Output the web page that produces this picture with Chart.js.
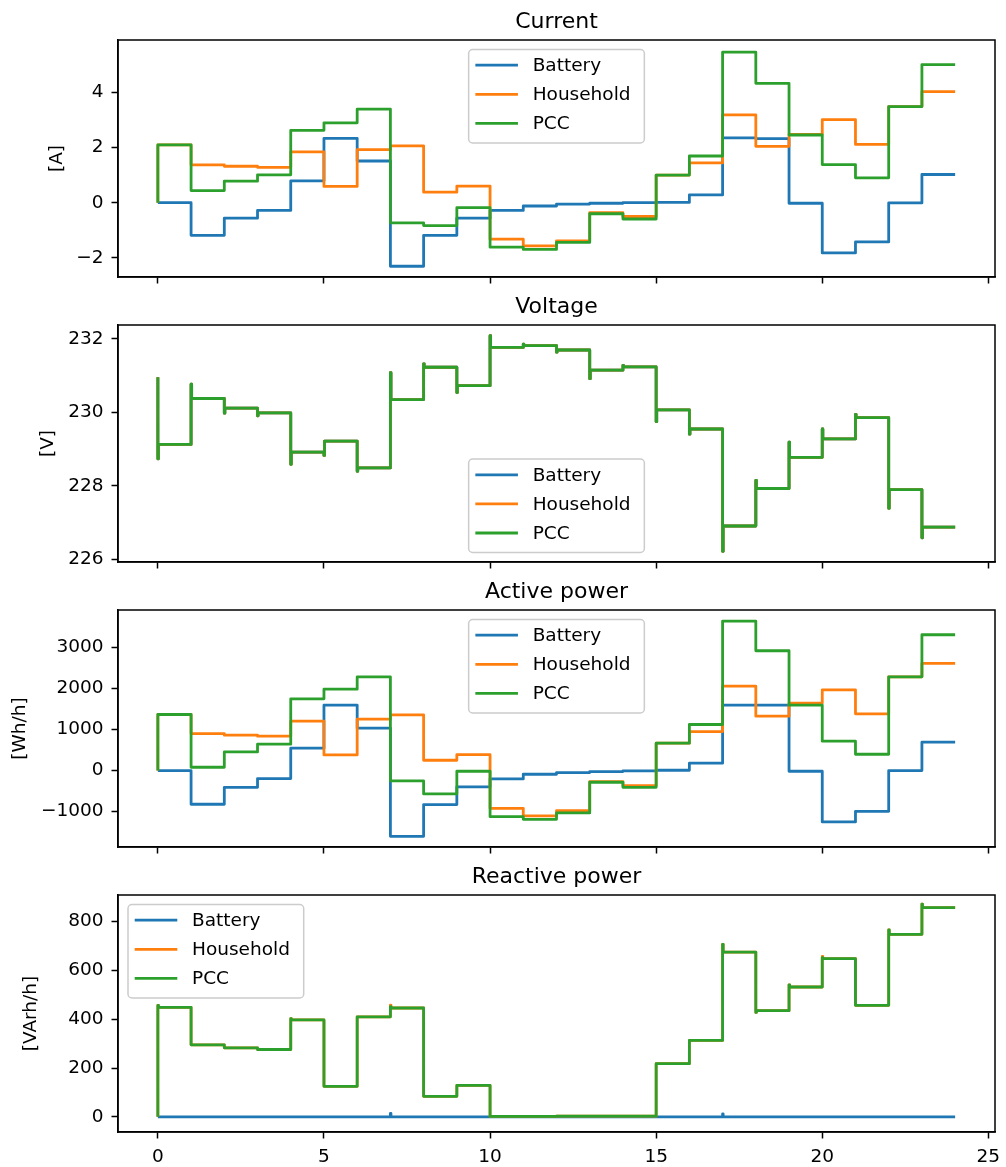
<!DOCTYPE html>
<html><head><meta charset="utf-8">
<script src="https://cdn.jsdelivr.net/npm/chart.js@4.4.0/dist/chart.umd.min.js"></script>
<style>
html,body{margin:0;padding:0;background:#fff;}
#wrap{position:relative;width:1006px;height:1167px;overflow:hidden;}
canvas{position:absolute;left:0;display:block;}
</style></head><body>
<div id="wrap">
<canvas id="c0" width="1006" height="285" style="top:0px"></canvas>
<canvas id="c1" width="1006" height="285" style="top:285px"></canvas>
<canvas id="c2" width="1006" height="285" style="top:570px"></canvas>
<canvas id="c3" width="1006" height="312" style="top:855px"></canvas>
</div>
<script>
// ---------- data (hourly values) ----------
const hours = [0,1,2,3,4,5,6,7,8,9,10,11,12,13,14,15,16,17,18,19,20,21,22,23];
const hourEnd = 24;
const sampleStep = 1/60; // one-minute sampling
const seriesNames = ['Battery', 'Household', 'PCC'];
const xTicks = [0, 5, 10, 15, 20, 25];

// Current [A]
const currentBattery   = [0, -1.18, -0.56, -0.28, 0.79, 2.33, 1.51, -2.30, -1.18, -0.56, -0.28, -0.12, -0.05, -0.02, 0, 0.01, 0.28, 2.35, 2.32, -0.02, -1.82, -1.42, -0.01, 1.02];
const currentHousehold = [2.09, 1.37, 1.32, 1.28, 1.84, 0.59, 1.92, 2.06, 0.38, 0.60, -1.32, -1.56, -1.38, -0.36, -0.50, 1.00, 1.44, 3.18, 2.04, 2.47, 3.01, 2.11, 3.48, 4.02];
const currentPCC       = [2.09, 0.44, 0.78, 1.01, 2.62, 2.89, 3.39, -0.73, -0.83, -0.18, -1.61, -1.69, -1.44, -0.40, -0.59, 1.00, 1.69, 5.45, 4.32, 2.45, 1.38, 0.90, 3.48, 5.00];
const currentStart = [0, 0, 0];
const currentTicks = [-2, 0, 2, 4];

// Voltage [V] (identical at the three measuring points)
const voltage      = [229.13, 230.38, 230.12, 229.99, 228.92, 229.22, 228.49, 230.35, 231.23, 230.73, 231.77, 231.82, 231.70, 231.15, 231.24, 230.07, 229.55, 226.91, 227.93, 228.78, 229.28, 229.86, 227.90, 226.88];
const voltageSpike = [228.74, 230.77, 229.98, 229.91, 228.59, 228.83, 228.40, 231.08, 231.32, 230.54, 232.09, 231.86, 231.64, 230.92, 231.28, 229.75, 229.41, 226.22, 228.15, 229.19, 229.55, 229.95, 227.39, 226.59];
const voltageStart = 230.96;
const voltageTicks = [226, 228, 230, 232];

// Active power [Wh/h]
const activeBattery   = [0, -821, -407, -195, 545, 1593, 1033, -1602, -829, -398, -203, -89, -49, -24, -8, 8, 179, 1593, 1593, -16, -1252, -992, 0, 691];
const activeHousehold = [1366, 902, 862, 837, 1203, 382, 1252, 1358, 252, 390, -919, -1106, -976, -268, -366, 667, 951, 2057, 1325, 1642, 1967, 1382, 2285, 2610];
const activePCC       = [1366, 81, 455, 642, 1748, 1984, 2285, -252, -569, -16, -1122, -1187, -1033, -285, -407, 667, 1122, 3642, 2919, 1593, 715, 398, 2285, 3309];
const activeStart = [0, 0, 0];
const activeTicks = [-1000, 0, 1000, 2000, 3000];

// Reactive power [VArh/h]
const reactiveBattery   = [0, 0, 0, 0, 0, 0, 0, 0, 0, 0, 0, 0, 0, 0, 0, 0, 0, 0, 0, 0, 0, 0, 0, 0];
const reactiveHousehold = [449, 295, 283, 276, 397, 125, 410, 446, 84, 129, 2, 2, 3, 3, 3, 218, 313, 675, 435, 532, 648, 457, 748, 857];
const reactivePCC       = [449, 295, 283, 276, 397, 125, 410, 446, 84, 129, 2, 2, 3, 3, 3, 218, 313, 675, 435, 532, 648, 457, 748, 857];
const reactiveBatterySpike   = [null, null, null, null, null, null, null, 14, null, null, null, null, null, null, null, null, null, 12, null, null, null, null, null, null];
const reactiveHouseholdSpike = [457, null, null, null, 402, null, null, 458, null, null, null, null, null, null, null, null, null, 707, 428, 541, 657, null, 766, 871];
const reactivePCCSpike       = [457, null, null, null, 402, null, null, 452, null, null, null, null, null, null, null, null, null, 707, 428, 541, 652, null, 766, 871];
const reactiveStart = [0, 0, 0];
const reactiveTicks = [0, 200, 400, 600, 800];

// ---------- helpers ----------
const colors = ['#1f77b4', '#ff7f0e', '#2ca02c'];
const FONT = 'DejaVu Sans';
const TICK_FS = 18.5, TITLE_FS = 22;

function buildPoints(start, vals, spikes) {
  const pts = [{x: hours[0], y: start}];
  for (let i = 0; i < vals.length; i++) {
    const h = hours[i];
    const s = spikes ? spikes[i] : null;
    if (s !== null && s !== undefined) {
      pts.push({x: h, y: s});
      pts.push({x: h + sampleStep, y: vals[i]});
    } else {
      pts.push({x: h, y: vals[i]});
    }
  }
  pts.push({x: hourEnd, y: vals[vals.length - 1]});
  return pts;
}

function fmt(v) { return v < 0 ? '\u2212' + Math.abs(v) : String(v); }

const framePlugin = {
  id: 'frame',
  afterDatasetsDraw(chart) {
    const {ctx, chartArea: a} = chart;
    ctx.save();
    ctx.strokeStyle = '#000'; ctx.lineWidth = 1.5;
    ctx.strokeRect(a.left, a.top, a.right - a.left, a.bottom - a.top);
    ctx.restore();
  }
};

const decoPlugin = {
  id: 'deco',
  afterDraw(chart, args, o) {
    const {ctx, chartArea: a} = chart;
    ctx.save();
    // title
    ctx.fillStyle = '#000';
    ctx.font = TITLE_FS + 'px "' + FONT + '"';
    ctx.textAlign = 'center'; ctx.textBaseline = 'alphabetic';
    ctx.fillText(o.title, (a.left + a.right) / 2, a.top - 12);
    // y label
    ctx.font = TICK_FS + 'px "' + FONT + '"';
    ctx.translate(o.yLabelX, (a.top + a.bottom) / 2);
    ctx.rotate(-Math.PI / 2);
    ctx.textAlign = 'center'; ctx.textBaseline = 'middle';
    ctx.fillText(o.yLabel, 0, 0);
    ctx.restore();
    // legend
    ctx.save();
    ctx.font = TICK_FS + 'px "' + FONT + '"';
    const labels = chart.data.datasets.map(d => d.label);
    const tw = Math.max(...labels.map(l => ctx.measureText(l).width));
    const w = 6.7 + 42.6 + 14.7 + tw + 13.8, h = 93.4;
    let x, y;
    if (o.legend === 'upper center') { x = (a.left + a.right) / 2 - w / 2; y = a.top + 9.5; }
    else if (o.legend === 'lower center') { x = (a.left + a.right) / 2 - w / 2; y = a.bottom - 9.5 - h; }
    else { x = a.left + 10; y = a.top + 9.5; }
    const r = 4;
    ctx.beginPath();
    ctx.moveTo(x + r, y); ctx.lineTo(x + w - r, y); ctx.arcTo(x + w, y, x + w, y + r, r);
    ctx.lineTo(x + w, y + h - r); ctx.arcTo(x + w, y + h, x + w - r, y + h, r);
    ctx.lineTo(x + r, y + h); ctx.arcTo(x, y + h, x, y + h - r, r);
    ctx.lineTo(x, y + r); ctx.arcTo(x, y, x + r, y, r); ctx.closePath();
    ctx.fillStyle = 'rgba(255,255,255,0.8)'; ctx.fill();
    ctx.strokeStyle = '#cccccc'; ctx.lineWidth = 1.5; ctx.stroke();
    chart.data.datasets.forEach((d, i) => {
      const cy = y + 15.7 + i * 29.1;
      ctx.beginPath(); ctx.moveTo(x + 6.7, cy); ctx.lineTo(x + 49.3, cy);
      ctx.strokeStyle = d.borderColor; ctx.lineWidth = 2.8; ctx.stroke();
      ctx.fillStyle = '#000'; ctx.textAlign = 'left'; ctx.textBaseline = 'middle';
      ctx.fillText(d.label, x + 64, cy + 1);
    });
    ctx.restore();
  }
};

function makeChart(id, cfg) {
  const datasets = cfg.series.map((pts, i) => ({
    label: seriesNames[i], data: pts, borderColor: colors[i], backgroundColor: colors[i],
    borderWidth: 2.8, pointRadius: 0, stepped: true, fill: false, tension: 0,
    borderJoinStyle: 'round', borderCapStyle: 'butt', order: 2 - i
  }));
  const grid = {drawOnChartArea: false, drawTicks: true, tickLength: 6.5, tickWidth: 1.5, tickColor: '#000'};
  const border = {display: true, color: '#000', width: 1.5};
  return new Chart(document.getElementById(id), {
    type: 'line',
    data: {datasets},
    options: {
      responsive: false, animation: false, devicePixelRatio: 1,
      layout: {padding: {left: 0, right: 11, top: 40, bottom: 0}},
      plugins: {legend: {display: false}, tooltip: {enabled: false}, title: {display: false},
        deco: {title: cfg.title, yLabel: cfg.yLabel, yLabelX: cfg.yLabelX, legend: cfg.legend}},
      scales: {
        x: {type: 'linear', min: -1.2, max: 25.2,
          afterBuildTicks: s => { s.ticks = xTicks.map(v => ({value: v})); },
          afterFit: s => { s.height = cfg.xHeight; s.paddingLeft = 0; s.paddingRight = 0; },
          ticks: {autoSkip: false, maxRotation: 0, padding: 8, color: '#000',
            font: {family: FONT, size: TICK_FS},
            callback: v => cfg.showX ? fmt(v) : ''},
          grid, border},
        y: {type: 'linear', min: cfg.yMin, max: cfg.yMax,
          afterBuildTicks: s => { s.ticks = cfg.yTicks.map(v => ({value: v})); },
          afterFit: s => { s.width = 118; s.paddingTop = 0; s.paddingBottom = 0; },
          ticks: {autoSkip: false, padding: 8, color: '#000',
            font: {family: FONT, size: TICK_FS}, callback: v => fmt(v)},
          grid, border}
      }
    },
    plugins: [framePlugin, decoPlugin]
  });
}

makeChart('c0', {
  title: 'Current', yLabel: '[A]', yLabelX: 57, legend: 'upper center',
  yMin: -2.69, yMax: 5.89, yTicks: currentTicks, showX: false, xHeight: 8,
  series: [buildPoints(currentStart[0], currentBattery), buildPoints(currentStart[1], currentHousehold), buildPoints(currentStart[2], currentPCC)]
});
makeChart('c1', {
  title: 'Voltage', yLabel: '[V]', yLabelX: 48, legend: 'lower center',
  yMin: 225.93, yMax: 232.38, yTicks: voltageTicks, showX: false, xHeight: 8,
  series: [buildPoints(voltageStart, voltage, voltageSpike), buildPoints(voltageStart, voltage, voltageSpike), buildPoints(voltageStart, voltage, voltageSpike)]
});
makeChart('c2', {
  title: 'Active power', yLabel: '[Wh/h]', yLabelX: 20, legend: 'upper center',
  yMin: -1862, yMax: 3912, yTicks: activeTicks, showX: false, xHeight: 8,
  series: [buildPoints(activeStart[0], activeBattery), buildPoints(activeStart[1], activeHousehold), buildPoints(activeStart[2], activePCC)]
});
makeChart('c3', {
  title: 'Reactive power', yLabel: '[VArh/h]', yLabelX: 31, legend: 'upper left',
  yMin: -62, yMax: 909, yTicks: reactiveTicks, showX: true, xHeight: 35,
  series: [buildPoints(reactiveStart[0], reactiveBattery, reactiveBatterySpike), buildPoints(reactiveStart[1], reactiveHousehold, reactiveHouseholdSpike), buildPoints(reactiveStart[2], reactivePCC, reactivePCCSpike)]
});
</script>
</body></html>
